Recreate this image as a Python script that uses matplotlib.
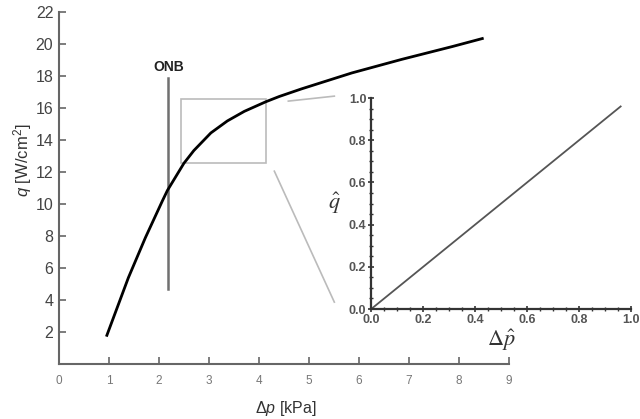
import numpy as np
import matplotlib
matplotlib.use("Agg")
import matplotlib.pyplot as plt
from matplotlib.patches import Rectangle
from matplotlib.ticker import MultipleLocator

plt.rcParams['font.family'] = ['Liberation Sans', 'DejaVu Sans']
plt.rcParams['mathtext.fontset'] = 'custom'
plt.rcParams['mathtext.rm'] = 'Liberation Sans'
plt.rcParams['mathtext.it'] = 'Liberation Sans:italic'

# curva principale q(dp)
dp = [0.96, 1.39, 1.73, 2.07, 2.17, 2.50, 2.70, 3.04, 3.37, 3.71, 4.14,
      4.41, 4.85, 5.86, 6.86, 7.87, 8.47]
q = [1.8, 5.4, 7.9, 10.2, 10.85, 12.55, 13.35, 14.45, 15.2, 15.8, 16.4,
     16.73, 17.2, 18.2, 19.05, 19.85, 20.35]

# linea ONB
onb_x = 2.19
onb_y = [4.7, 17.9]

# riquadro di zoom
box_x = [2.45, 4.15]
box_y = [12.6, 16.55]

# grafico adimensionale
dp_hat = [0.0, 0.96]
q_hat = [0.0, 0.96]

fig = plt.figure(figsize=(6.4, 4.19), dpi=100)
ax = fig.add_axes([0.092, 0.131, 0.703, 0.840])

ax.plot(dp, q, color='black', lw=2.0, zorder=3, solid_joinstyle='round')
ax.plot([onb_x, onb_x], onb_y, color='#707070', lw=1.8)
ax.text(onb_x, 18.6, 'ONB', ha='center', va='center', fontsize=10,
        fontweight='bold', color='#222222')

ax.add_patch(Rectangle((box_x[0], box_y[0]), box_x[1] - box_x[0],
                       box_y[1] - box_y[0], fill=False, ec='#bbbbbb', lw=1.2))
# linee di collegamento verso l'inset
ax.plot([4.59, 5.51], [16.44, 16.75], color='#bbbbbb', lw=1.2)
ax.plot([4.31, 5.51], [12.06, 3.875], color='#bbbbbb', lw=1.2)

ax.set_xlim(0, 9)
ax.set_ylim(0, 22)
ax.set_xticks(range(0, 10))
ax.set_yticks(range(2, 23, 2))
for s in ['top', 'right']:
    ax.spines[s].set_visible(False)
for s in ['left', 'bottom']:
    ax.spines[s].set_color('#666666')
    ax.spines[s].set_linewidth(1.5)
ax.tick_params(axis='x', direction='in', length=5, width=1.2, colors='#666666',
               labelsize=8.5, labelcolor='#777777', pad=8)
ax.tick_params(axis='y', direction='in', length=5, width=1.2, colors='#666666',
               labelsize=11.5, labelcolor='#444444', pad=4)
ax.set_ylabel(r'$\mathit{q}$ [W/cm$^\mathrm{2}$]', fontsize=12, color='#333333',
              math_fontfamily='custom')
ax.set_xlabel(r'$\mathit{\Delta p}$ [kPa]', fontsize=11.5, color='#333333',
              math_fontfamily='custom')
ax.yaxis.set_label_coords(-0.056, 0.58)
ax.xaxis.set_label_coords(0.505, -0.10)

# inset
ins = fig.add_axes([0.580, 0.2625, 0.406, 0.5036])
ins.plot(dp_hat, q_hat, color='#555555', lw=1.3)
ins.set_xlim(0, 1)
ins.set_ylim(0, 1)
ins.xaxis.set_major_locator(MultipleLocator(0.2))
ins.yaxis.set_major_locator(MultipleLocator(0.2))
ins.xaxis.set_minor_locator(MultipleLocator(0.05))
ins.yaxis.set_minor_locator(MultipleLocator(0.05))
for s in ['top', 'right']:
    ins.spines[s].set_visible(False)
for s in ['left', 'bottom']:
    ins.spines[s].set_color('#333333')
    ins.spines[s].set_linewidth(1.6)
ins.tick_params(which='major', direction='inout', length=5, width=1.2,
                colors='#333333', labelsize=9, labelcolor='#555555', pad=1)
ins.tick_params(which='minor', direction='inout', length=3, width=1.0,
                colors='#333333')
for lbl in ins.get_xticklabels() + ins.get_yticklabels():
    lbl.set_fontweight('bold')
ins.set_ylabel(r'$\hat{q}$', fontsize=16, rotation=0, color='#333333',
               math_fontfamily='stix', va='center')
ins.set_xlabel(r'$\Delta\hat{p}$', fontsize=16, color='#333333',
               math_fontfamily='stix')
ins.yaxis.set_label_coords(-0.14, 0.5)
ins.xaxis.set_label_coords(0.5, -0.09)
ins.patch.set_alpha(0)

fig.savefig('out.png', dpi=100)
